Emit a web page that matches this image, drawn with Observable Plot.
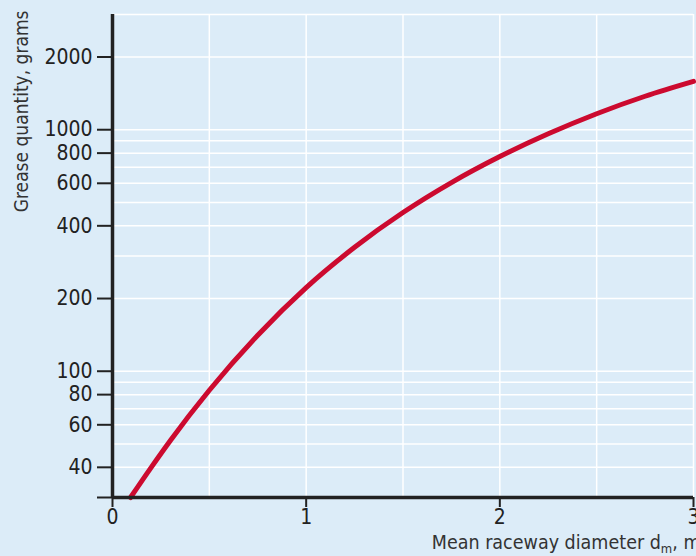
<!DOCTYPE html>
<html><head><meta charset="utf-8">
<script src="https://cdn.jsdelivr.net/npm/d3@7"></script>
<script src="https://cdn.jsdelivr.net/npm/@observablehq/plot@0.6"></script>
<style>
html,body{margin:0;padding:0;background:#dcecf8;overflow:hidden;}
</style></head><body><div id="chart"></div>
<script>
// Data
const diameter = [0.093, 0.2, 0.3, 0.5, 0.75, 1.0, 1.25, 1.5, 1.75, 2.0, 2.25, 2.5, 2.75, 3.0];
const grease   = [30, 40.0, 51.8, 83.4, 141, 222, 326, 454, 604, 774, 962, 1165, 1376, 1585];

const xTicks = [0, 1, 2, 3];
const yTicks = [30, 40, 60, 80, 100, 200, 400, 600, 800, 1000, 2000];
const yTickLabels = ["", "40", "60", "80", "100", "200", "400", "600", "800", "1000", "2000"];
const xGrid = [0.5, 1, 1.5, 2, 2.5, 3];
const yGrid = [40, 50, 60, 70, 80, 90, 100, 200, 300, 400, 500, 600, 700, 800, 900, 1000, 2000, 3000];
const xTitle = "Mean raceway diameter dm, m";
const yTitle = "Grease quantity, grams";

const data = diameter.map((d, i) => ({d, g: grease[i]}));
const ink = "#222";

const chart = Plot.plot({
  width: 696,
  height: 556,
  marginLeft: 112,
  marginRight: 3,
  marginTop: 14,
  marginBottom: 59,
  style: {background: "#dcecf8", fontFamily: "'DejaVu Sans Condensed', 'DejaVu Sans', sans-serif", fontStretch: "condensed", fontSize: "21px", color: ink},
  x: {domain: [0, 3]},
  y: {type: "log", domain: [30, 3000]},
  marks: [
    Plot.ruleX(xGrid, {stroke: "white", strokeWidth: 1.5}),
    Plot.ruleY(yGrid, {stroke: "white", strokeWidth: 1.5}),
    Plot.line(data, {x: "d", y: "g", stroke: "#cc0a2f", strokeWidth: 5, curve: "monotone-x"}),
    Plot.axisY(yTicks, {text: (d) => yTickLabels[yTicks.indexOf(d)], tickSize: 15, tickPadding: 5, strokeWidth: 2, stroke: ink, fill: ink, label: null, fontSize: 21}),
    Plot.axisX(xTicks, {text: (d) => String(d), tickSize: 10, tickPadding: 2, strokeWidth: 2, stroke: ink, fill: ink, label: null, fontSize: 21}),
    Plot.ruleX([0], {stroke: ink, strokeWidth: 3.5}),
    Plot.ruleY([30], {stroke: ink, strokeWidth: 3.5}),
    Plot.text([yTitle], {frameAnchor: "top-left", rotate: -90, textAnchor: "end", dx: -98, dy: -4, fontSize: 19, fill: "#333"}),
    Plot.text([xTitle], {frameAnchor: "bottom-right", textAnchor: "end", dx: 7, dy: 51, fontSize: 19.5, fill: "#333"})
  ]
});

// Render the subscript in the x title
chart.querySelectorAll("text").forEach((t) => {
  if (t.textContent === xTitle) {
    t.textContent = "";
    const ns = "http://www.w3.org/2000/svg";
    const a = document.createElementNS(ns, "tspan"); a.textContent = "Mean raceway diameter d";
    const b = document.createElementNS(ns, "tspan"); b.textContent = "m"; b.setAttribute("font-size", "13"); b.setAttribute("dy", "4");
    const c = document.createElementNS(ns, "tspan"); c.textContent = ", m"; c.setAttribute("dy", "-4");
    t.append(a, b, c);
  }
});
document.getElementById("chart").appendChild(chart);
</script>
</body></html>
